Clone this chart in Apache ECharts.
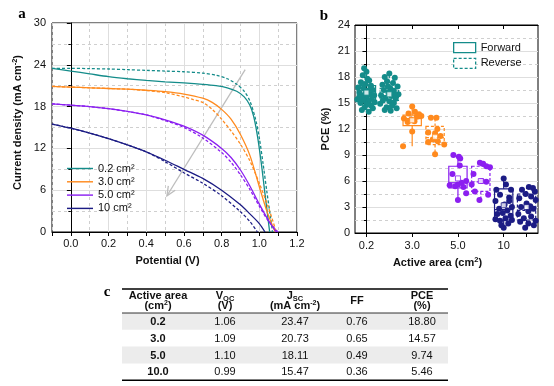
<!DOCTYPE html>
<html><head><meta charset="utf-8">
<script src="https://cdn.jsdelivr.net/npm/echarts@6/dist/echarts.min.js"></script>
<style>html,body{margin:0;padding:0;background:#fff}#c{width:554px;height:386px}</style>
</head><body><div id="c"></div>
<script>
// ---------------- DATA ----------------
// Panel a: J-V curves (forward = solid, reverse = dashed)
const JV_NAMES = ['0.2 cm²', '3.0 cm²', '5.0 cm²', '10 cm²'];
const V_02_F = [-0.1, 0.0, 0.1, 0.2, 0.3, 0.4, 0.5, 0.6, 0.7, 0.77, 0.83, 0.88, 0.92, 0.95, 0.97, 0.99, 1.01, 1.03, 1.045, 1.055];
const J_02_F = [23.5, 23.1, 22.7, 22.3, 22.0, 21.75, 21.55, 21.4, 21.2, 21.0, 20.7, 20.2, 19.4, 18.2, 16.6, 13.8, 10.0, 5.5, 2.2, 0];
const V_02_R = [-0.1, 0.0, 0.1, 0.2, 0.3, 0.4, 0.5, 0.6, 0.7, 0.77, 0.83, 0.88, 0.92, 0.95, 0.98, 1.0, 1.02, 1.04, 1.06, 1.07];
const J_02_R = [23.5, 23.5, 23.45, 23.4, 23.3, 23.2, 23.1, 23.0, 22.8, 22.5, 22.0, 21.2, 20.2, 18.8, 16.2, 13.5, 9.8, 5.8, 2.0, 0];
const V_30_F = [-0.1, 0.0, 0.1, 0.2, 0.3, 0.4, 0.5, 0.6, 0.7, 0.75, 0.8, 0.85, 0.9, 0.95, 1.0, 1.04, 1.07, 1.085];
const J_30_F = [20.9, 20.8, 20.7, 20.6, 20.5, 20.35, 20.15, 19.8, 19.2, 18.6, 17.6, 16.2, 14.0, 11.0, 6.5, 3.0, 0.9, 0];
const V_30_R = [-0.1, 0.0, 0.1, 0.2, 0.3, 0.4, 0.5, 0.6, 0.65, 0.7, 0.75, 0.8, 0.85, 0.9, 0.95, 1.0, 1.05, 1.09];
const J_30_R = [20.9, 20.8, 20.7, 20.6, 20.5, 20.3, 20.0, 19.4, 19.0, 18.6, 17.6, 16.2, 14.5, 12.6, 10.2, 7.0, 3.4, 0];
const V_50_F = [-0.1, 0.0, 0.1, 0.2, 0.3, 0.4, 0.5, 0.6, 0.7, 0.8, 0.85, 0.9, 0.95, 1.0, 1.05, 1.09];
const J_50_F = [18.4, 18.2, 18.0, 17.7, 17.3, 16.8, 16.1, 15.2, 13.9, 12.0, 10.7, 8.9, 6.6, 4.0, 1.6, 0];
const V_50_R = [-0.1, 0.0, 0.1, 0.2, 0.3, 0.4, 0.5, 0.6, 0.7, 0.8, 0.85, 0.9, 0.95, 1.0, 1.05, 1.1];
const J_50_R = [18.4, 18.2, 18.0, 17.7, 17.3, 16.8, 16.0, 15.0, 13.5, 11.4, 10.0, 8.2, 6.1, 3.7, 1.5, 0];
const V_10_F = [-0.1, 0.0, 0.1, 0.2, 0.3, 0.4, 0.5, 0.6, 0.7, 0.8, 0.9, 0.95, 1.0, 1.03];
const J_10_F = [15.5, 14.9, 14.2, 13.4, 12.5, 11.5, 10.3, 9.0, 7.7, 6.0, 3.9, 2.6, 1.2, 0];
const V_10_R = [-0.1, 0.0, 0.1, 0.2, 0.3, 0.4, 0.5, 0.6, 0.7, 0.8, 0.9, 0.95, 0.99];
const J_10_R = [15.5, 14.9, 14.2, 13.4, 12.5, 11.5, 10.1, 8.5, 7.0, 5.2, 2.9, 1.5, 0];
// gray trend arrow (from, to) in data units
const ARROW = [0.925, 23.3, 0.51, 5.2];

// Panel b: PCE distributions
const AREAS = ['0.2', '3.0', '5.0', '10'];
// box stats: [min, Q1, median, Q3, max]
const BOX_F = [[14.0, 15.3, 16.1, 17.0, 19.0], [10.0, 12.4, 13.2, 13.6, 14.6], [3.8, 5.2, 5.8, 7.7, 9.0], [0.6, 1.5, 2.7, 5.1, 6.3]];
const BOX_R = [[14.1, 15.3, 15.8, 16.7, 18.4], [9.1, 10.2, 11.0, 12.3, 13.3], [3.8, 4.8, 5.9, 7.7, 8.1], [0.6, 1.5, 2.6, 4.5, 5.3]];
const MEAN_F = [16.2, 13.0, 6.3, 3.2];
const MEAN_R = [16.0, 11.1, 6.0, 3.0];
// individual devices: [jitter offset within group, PCE]
const PTS_02_F = [[-0.1,19.0],[0.0,18.6],[-0.16,18.2],[0.04,17.8],[-0.24,17.4],[0.12,17.6],[-0.06,17.2],[0.2,17.0],[-0.36,16.8],[-0.12,16.7],[0.28,16.5],[0.06,16.4],[-0.3,16.2],[-0.04,16.1],[0.16,16.0],[0.34,15.9],[-0.2,15.8],[0.0,15.7],[0.24,15.5],[-0.4,15.4],[-0.12,15.3],[0.1,15.2],[0.36,15.1],[-0.26,15.0],[0.0,14.8],[0.2,14.7],[-0.08,14.5],[0.28,14.4],[-0.2,14.2],[0.1,14.0],[-0.32,15.6],[0.18,16.9]];
const PTS_02_R = [[0.0,18.4],[-0.2,18.0],[0.24,17.9],[-0.1,17.5],[0.16,17.3],[-0.3,17.1],[0.36,16.9],[0.04,16.7],[-0.24,16.5],[0.2,16.4],[-0.04,16.2],[0.4,16.0],[-0.36,15.9],[0.1,15.8],[-0.16,15.6],[0.28,15.5],[-0.28,15.3],[0.0,15.2],[0.2,15.0],[-0.4,14.9],[0.12,14.7],[-0.12,14.5],[0.32,14.4],[-0.2,14.2],[0.06,14.1],[0.24,15.9],[-0.06,16.9]];
const PTS_30_F = [[0.0,14.6],[0.12,14.0],[-0.16,13.8],[0.3,13.7],[-0.36,13.2],[0.2,13.4],[0.4,13.5],[-0.04,13.1],[0.1,12.9],[-0.2,12.8],[0.0,11.7],[-0.4,10.0]];
const PTS_30_R = [[-0.18,13.3],[0.06,13.3],[0.1,12.0],[-0.3,11.6],[0.0,11.5],[0.24,11.2],[0.12,10.6],[-0.3,10.5],[0.4,10.2],[0.0,9.1],[-0.1,10.8]];
const PTS_50_F = [[-0.2,9.0],[0.04,8.8],[0.1,8.6],[0.08,7.8],[-0.24,6.8],[0.36,6.0],[0.16,5.8],[-0.36,5.5],[-0.12,5.4],[0.0,5.6],[0.24,5.3],[0.36,4.6],[0.0,3.8]];
const PTS_50_R = [[-0.04,8.1],[0.1,8.0],[0.24,7.7],[-0.32,6.8],[0.04,6.0],[0.24,5.9],[-0.4,5.6],[-0.26,4.8],[0.32,4.4],[-0.06,3.8],[0.4,7.6]];
const PTS_10_F = [[0.0,6.3],[-0.32,5.0],[0.32,5.0],[0.1,5.6],[-0.16,4.4],[0.24,4.1],[-0.36,3.7],[0.04,3.3],[0.36,3.0],[-0.2,2.8],[0.16,2.6],[-0.04,2.3],[0.3,2.0],[-0.36,1.6],[0.08,1.7],[-0.16,1.4],[0.36,1.5],[0.2,1.1],[-0.1,0.9],[0.0,0.6],[-0.28,2.2],[0.24,3.7]];
const PTS_10_R = [[0.1,5.3],[0.28,5.2],[-0.2,5.0],[0.36,4.8],[-0.04,4.5],[0.2,4.2],[-0.32,4.0],[0.4,3.8],[0.0,3.4],[-0.24,3.0],[0.3,2.8],[0.08,2.5],[-0.36,2.2],[0.2,1.9],[-0.12,1.7],[0.4,1.4],[-0.28,1.3],[0.08,1.1],[0.32,0.9],[-0.06,0.6],[0.16,3.1]];

// Panel c: table
const TBL_AREA = ['0.2', '3.0', '5.0', '10.0'];
const TBL_VOC = ['1.06', '1.09', '1.10', '0.99'];
const TBL_JSC = ['23.47', '20.73', '18.11', '15.47'];
const TBL_FF = ['0.76', '0.65', '0.49', '0.36'];
const TBL_PCE = ['18.80', '14.57', '9.74', '5.46'];

// ---------------- STYLE ----------------
const FONT = '"Liberation Sans", Arial, sans-serif';
const SERIF = '"Liberation Serif", "DejaVu Serif", serif';
const COLORS = ['#148c8a', '#ff8a1e', '#8b1ff0', '#1c1c84'];
const TXT = '#111';
const GRID_SOLID = '#dedede';
const GRID_DASH = '#cfcfcf';
const TRANSP = 'rgba(0,0,0,0)';
const SUP = { fontSize: 7.5, fontWeight: 'bold', fontFamily: FONT, verticalAlign: 'top', lineHeight: 6, color: TXT };
const NAME_BOLD = { fontSize: 11, fontWeight: 'bold', fontFamily: FONT, color: TXT, lineHeight: 14 };

const zip = (xs, ys) => xs.map((x, i) => [x, ys[i]]);
const CURVES = [[V_02_F, J_02_F, V_02_R, J_02_R], [V_30_F, J_30_F, V_30_R, J_30_R], [V_50_F, J_50_F, V_50_R, J_50_R], [V_10_F, J_10_F, V_10_R, J_10_R]];
const PTS_F = [PTS_02_F, PTS_30_F, PTS_50_F, PTS_10_F];
const PTS_R = [PTS_02_R, PTS_30_R, PTS_50_R, PTS_10_R];
const CAT8 = [];
AREAS.forEach(a => { CAT8.push(a); CAT8.push(a + ' r'); });

const series = [];
// J-V lines
CURVES.forEach((c, i) => {
  series.push({ name: JV_NAMES[i], type: 'line', xAxisIndex: 0, yAxisIndex: 0, data: zip(c[0], c[1]),
    symbol: 'none', smooth: 0.3, lineStyle: { color: COLORS[i], width: 1.3 }, itemStyle: { color: COLORS[i] }, z: 3, silent: true });
  series.push({ name: JV_NAMES[i] + ' reverse', type: 'line', xAxisIndex: 0, yAxisIndex: 0, data: zip(c[2], c[3]),
    symbol: 'none', smooth: 0.3, lineStyle: { color: COLORS[i], width: 1.3, type: [3, 2] }, itemStyle: { color: COLORS[i] }, z: 3, silent: true });
});
// arrow
series.push({ type: 'custom', xAxisIndex: 0, yAxisIndex: 0, data: [ARROW], encode: { x: [0, 2], y: [1, 3] }, silent: true, z: 2,
  renderItem(params, api) {
    const p1 = api.coord([api.value(0), api.value(1)]);
    const p2 = api.coord([api.value(2), api.value(3)]);
    const ang = Math.atan2(p2[1] - p1[1], p2[0] - p1[0]);
    const L = 10, a = 0.42;
    const h1 = [p2[0] - L * Math.cos(ang - a), p2[1] - L * Math.sin(ang - a)];
    const h2 = [p2[0] - L * Math.cos(ang + a), p2[1] - L * Math.sin(ang + a)];
    const st = { stroke: '#bdbdbd', lineWidth: 1.3, fill: null };
    return { type: 'group', children: [
      { type: 'line', shape: { x1: p1[0], y1: p1[1], x2: p2[0], y2: p2[1] }, style: st },
      { type: 'polyline', shape: { points: [h1, p2, h2] }, style: st }
    ] };
  } });
// scatter points
AREAS.forEach((a, i) => {
  const data = PTS_F[i].map(p => [2 * i + p[0], p[1]]).concat(PTS_R[i].map(p => [2 * i + 1 + p[0], p[1]]));
  series.push({ type: 'scatter', name: 'pts' + a, xAxisIndex: 4, yAxisIndex: 1, data, symbolSize: 6,
    itemStyle: { color: COLORS[i], opacity: 1 }, z: 2, silent: true });
});
// boxes
const BOX_W = 0.8;
function boxRender(dash) {
  return function (params, api) {
    const x = api.value(0);
    const c = api.visual('color');
    const w = api.size([BOX_W, 0])[0];
    const pLo = api.coord([x, api.value(1)]), pQ1 = api.coord([x, api.value(2)]), pMed = api.coord([x, api.value(3)]),
      pQ3 = api.coord([x, api.value(4)]), pHi = api.coord([x, api.value(5)]);
    const st = { stroke: c, lineWidth: 1.2, fill: null, lineDash: dash ? [3, 2] : null };
    return { type: 'group', children: [
      { type: 'rect', shape: { x: pQ3[0] - w / 2, y: pQ3[1], width: w, height: pQ1[1] - pQ3[1] }, style: st },
      { type: 'line', shape: { x1: pMed[0] - w / 2, y1: pMed[1], x2: pMed[0] + w / 2, y2: pMed[1] }, style: st },
      { type: 'line', shape: { x1: pQ3[0], y1: pQ3[1], x2: pHi[0], y2: pHi[1] }, style: st },
      { type: 'line', shape: { x1: pQ1[0], y1: pQ1[1], x2: pLo[0], y2: pLo[1] }, style: st }
    ] };
  };
}
series.push({ name: 'Forward', type: 'custom', xAxisIndex: 4, yAxisIndex: 1, z: 4, silent: true,
  encode: { x: 0, y: [1, 2, 3, 4, 5] }, itemStyle: { color: COLORS[0] },
  data: BOX_F.map((b, i) => ({ value: [2 * i].concat(b), itemStyle: { color: COLORS[i] } })), renderItem: boxRender(false) });
series.push({ name: 'Reverse', type: 'custom', xAxisIndex: 4, yAxisIndex: 1, z: 4, silent: true,
  encode: { x: 0, y: [1, 2, 3, 4, 5] }, itemStyle: { color: COLORS[0] },
  data: BOX_R.map((b, i) => ({ value: [2 * i + 1].concat(b), itemStyle: { color: COLORS[i] } })), renderItem: boxRender(true) });
// means
series.push({ type: 'scatter', name: 'means', xAxisIndex: 4, yAxisIndex: 1, z: 5, silent: true, symbol: 'rect', symbolSize: 5,
  data: MEAN_F.map((m, i) => ({ value: [2 * i, m], itemStyle: { color: '#fff', borderColor: COLORS[i], borderWidth: 1 } }))
    .concat(MEAN_R.map((m, i) => ({ value: [2 * i + 1, m], itemStyle: { color: '#fff', borderColor: COLORS[i], borderWidth: 1 } }))) });

// ---------------- TABLE (panel c) ----------------
const COL_X = [158, 225, 295, 357, 422];
const T_LEFT = 122, T_RIGHT = 448;
const T_TOP = 289, T_HEAD_BOT = 313, ROW_H = 16.8;
const tFont = (bold) => ({ fontSize: 11, fontWeight: bold ? 'bold' : 'normal', fontFamily: FONT, fill: TXT });
const graphics = [];
function txt(x, y, text, bold, rich) {
  graphics.push({ type: 'text', x, y, silent: true, style: Object.assign({ text, align: 'center', verticalAlign: 'middle', rich }, tFont(bold)) });
}
// row bands
[0, 2].forEach(r => graphics.push({ type: 'rect', silent: true, shape: { x: T_LEFT, y: T_HEAD_BOT + r * ROW_H, width: T_RIGHT - T_LEFT, height: ROW_H }, style: { fill: '#ececec' } }));
graphics.push({ type: 'line', silent: true, shape: { x1: T_LEFT, y1: T_TOP, x2: T_RIGHT, y2: T_TOP }, style: { stroke: '#000', lineWidth: 1.5 } });
graphics.push({ type: 'line', silent: true, shape: { x1: T_LEFT, y1: T_HEAD_BOT, x2: T_RIGHT, y2: T_HEAD_BOT }, style: { stroke: '#000', lineWidth: 0.8 } });
graphics.push({ type: 'line', silent: true, shape: { x1: T_LEFT, y1: T_HEAD_BOT + 4 * ROW_H, x2: T_RIGHT, y2: T_HEAD_BOT + 4 * ROW_H }, style: { stroke: '#000', lineWidth: 1.5 } });
const H1 = 296, H2 = 306;
const hb = { fontSize: 11, fontWeight: 'bold', fontFamily: FONT, fill: TXT, lineHeight: 13 };
const hsup = { fontSize: 7, fontWeight: 'bold', fontFamily: FONT, fill: TXT, verticalAlign: 'top', lineHeight: 6 };
const hsub = { fontSize: 7.5, fontWeight: 'bold', fontFamily: FONT, fill: TXT, verticalAlign: 'bottom', lineHeight: 7 };
const richH = { b: hb, sup: hsup, sub: hsub };
txt(COL_X[0], H1, 'Active area', true);
txt(COL_X[0], H2, '{b|(cm}{sup|2}{b|)}', true, richH);
txt(COL_X[1], H1, '{b|V}{sub|OC}', true, richH);
txt(COL_X[1], H2, '(V)', true);
txt(COL_X[2], H1, '{b|J}{sub|SC}', true, richH);
txt(COL_X[2], H2, '{b|(mA cm}{sup|-2}{b|)}', true, richH);
txt(COL_X[3], (H1 + H2) / 2, 'FF', true);
txt(COL_X[4], H1, 'PCE', true);
txt(COL_X[4], H2, '(%)', true);
TBL_AREA.forEach((a, r) => {
  const y = T_HEAD_BOT + (r + 0.5) * ROW_H + 0.5;
  txt(COL_X[0], y, a, true);
  txt(COL_X[1], y, TBL_VOC[r], false);
  txt(COL_X[2], y, TBL_JSC[r], false);
  txt(COL_X[3], y, TBL_FF[r], false);
  txt(COL_X[4], y, TBL_PCE[r], false);
});
// panel letters
[['a', 22, 14], ['b', 324, 16], ['c', 107, 292]].forEach(l => graphics.push({ type: 'text', x: l[1], y: l[2], silent: true,
  style: { text: l[0], fontSize: 15, fontWeight: 'bold', fontFamily: SERIF, fill: '#000', align: 'center', verticalAlign: 'middle' } }));

// ---------------- AXES ----------------
const axLine = { show: true, lineStyle: { color: '#000', width: 1 } };
const axLabel = { fontSize: 11, fontFamily: FONT, color: TXT };

const option = {
  animation: false,
  backgroundColor: '#fff',
  grid: [
    { left: 52, top: 23, width: 245, height: 209, show: true, borderColor: '#000', borderWidth: 1, backgroundColor: TRANSP },
    { left: 355, top: 25, width: 183, height: 208, show: true, borderColor: '#000', borderWidth: 1, backgroundColor: TRANSP }
  ],
  xAxis: [
    { type: 'value', gridIndex: 0, position: 'bottom', min: -0.1, max: 1.2, interval: 0.1,
      axisLine: axLine, axisTick: { show: true, length: 4, lineStyle: { color: '#000' } },
      axisLabel: Object.assign({ margin: 6, formatter: v => (Math.round(v * 10) % 2 === 0 ? v.toFixed(1) : '') }, axLabel),
      splitLine: { show: true, lineStyle: { type: [3, 3], color: [GRID_DASH, TRANSP], width: 1 } },
      name: 'Potential (V)', nameLocation: 'middle', nameGap: 22, nameTextStyle: Object.assign({ padding: [0, 14, 0, 0] }, NAME_BOLD) },
    { type: 'value', gridIndex: 0, position: 'top', min: -0.1, max: 1.2, interval: 0.1,
      axisLine: { show: false }, axisTick: { show: false }, axisLabel: { show: false },
      splitLine: { show: true, lineStyle: { type: 'solid', color: [TRANSP, GRID_SOLID], width: 1 } } },
    { type: 'category', gridIndex: 1, position: 'bottom', data: CAT8, boundaryGap: true,
      axisLine: axLine, axisTick: { show: true, alignWithLabel: true, interval: 1, length: 4, lineStyle: { color: '#000' } },
      axisLabel: Object.assign({ interval: 0, margin: 7, formatter: v => (v.endsWith(' r') ? '' : v) }, axLabel),
      splitLine: { show: false },
      name: '{b|Active area (cm}{sup|2}{b|)}', nameLocation: 'middle', nameGap: 20,
      nameTextStyle: { padding: [0, 18, 0, 0], rich: { b: NAME_BOLD, sup: SUP } } },
    { type: 'category', gridIndex: 1, position: 'top', data: CAT8, boundaryGap: true,
      axisLine: axLine, axisTick: { show: true, inside: true, alignWithLabel: true, interval: 1, length: 4, lineStyle: { color: '#000' } },
      axisLabel: { show: false }, splitLine: { show: false } },
    { type: 'value', gridIndex: 1, min: -0.5, max: 7.5, show: false }
  ],
  yAxis: [
    { type: 'value', gridIndex: 0, min: 0, max: 30, interval: 6,
      axisLine: axLine, axisTick: { show: true, length: 4, lineStyle: { color: '#000' } },
      minorTick: { show: true, splitNumber: 2, length: 2.5, lineStyle: { color: '#000' } },
      axisLabel: Object.assign({ margin: 6 }, axLabel),
      splitLine: { show: true, lineStyle: { color: GRID_SOLID, width: 1 } },
      minorSplitLine: { show: true, lineStyle: { color: GRID_DASH, type: [3, 3], width: 1 } },
      name: '{b|Current density (mA cm}{sup|-2}{b|)}', nameLocation: 'middle', nameGap: 27,
      nameTextStyle: { padding: [0, 0, 0, 10], rich: { b: NAME_BOLD, sup: SUP } } },
    { type: 'value', gridIndex: 1, min: 0, max: 24, interval: 3,
      axisLine: axLine, axisTick: { show: true, length: 4, lineStyle: { color: '#000' } },
      minorTick: { show: true, splitNumber: 2, length: 2.5, lineStyle: { color: '#000' } },
      axisLabel: Object.assign({ margin: 5 }, axLabel),
      splitLine: { show: true, lineStyle: { color: GRID_SOLID, width: 1 } },
      minorSplitLine: { show: true, lineStyle: { color: GRID_DASH, type: [3, 3], width: 1 } },
      name: 'PCE (%)', nameLocation: 'middle', nameGap: 22, nameTextStyle: NAME_BOLD }
  ],
  legend: [
    { orient: 'vertical', left: 62, top: 158, itemWidth: 26, itemHeight: 12, itemGap: 2.3, padding: 5,
      icon: 'path://M0,0h100v5.5h-100z', symbolKeepAspect: true,
      data: JV_NAMES, textStyle: { fontSize: 11, fontFamily: FONT, color: TXT }, selectedMode: false },
    { orient: 'vertical', left: 448, top: 37, itemWidth: 22, itemHeight: 10, itemGap: 4.5, padding: 5, selectedMode: false,
      textStyle: { fontSize: 11, fontFamily: FONT, color: TXT },
      data: [
        { name: 'Forward', icon: 'rect', itemStyle: { color: '#fff', borderColor: COLORS[0], borderWidth: 1.3 } },
        { name: 'Reverse', icon: 'rect', itemStyle: { color: '#fff', borderColor: COLORS[0], borderWidth: 1.3, borderType: [3, 2] } }
      ] }
  ],
  series,
  graphic: graphics
};
const chart = echarts.init(document.getElementById('c'));
chart.setOption(option);
</script>
</body></html>
